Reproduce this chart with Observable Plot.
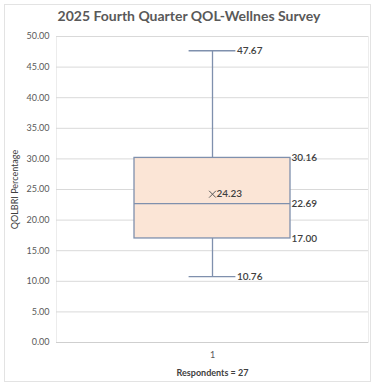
<!DOCTYPE html>
<html>
<head>
<meta charset="utf-8">
<script src="https://cdn.jsdelivr.net/npm/d3@7"></script>
<script src="https://cdn.jsdelivr.net/npm/@observablehq/plot@0.6"></script>
<style>
  html, body { margin: 0; padding: 0; background: #fff; }
  #wrap { position: relative; width: 378px; height: 387px; font-family: Lato, "Open Sans", sans-serif; }
  #frame { position: absolute; left: 4px; top: 4px; width: 367px; height: 378px; border: 1px solid #e3e3e3; box-sizing: border-box; }
  #title { position: absolute; left: 0; top: 7px; width: 378px; text-align: center; font-size: 14px; font-weight: bold; color: #595959; }
  #chart { position: absolute; left: 0; top: 0; }
</style>
</head>
<body>
<div id="wrap">
  <div id="frame"></div>
  <div id="title">2025 Fourth Quarter QOL-Wellnes Survey</div>
  <div id="chart"></div>
</div>
<script>
const categories = ["1"];
const minValues = [10.76];
const q1Values = [17.00];
const medianValues = [22.69];
const q3Values = [30.16];
const maxValues = [47.67];
const meanValues = [24.23];
const yTicks = [0, 5, 10, 15, 20, 25, 30, 35, 40, 45, 50];
const xLabel = "Respondents = 27";
const yLabel = "QOLBRI Percentage";

const data = categories.map((c, i) => ({
  pos: i + 1, cat: c,
  min: minValues[i], q1: q1Values[i], med: medianValues[i],
  q3: q3Values[i], max: maxValues[i], mean: meanValues[i]
}));

const boxColor = "#7f90ad";
const fillColor = "#fbe5d6";
const labelColor = "#404040";
const fmt = d => d.toFixed(2);

const chart = Plot.plot({
  width: 378,
  height: 387,
  marginLeft: 56,
  marginRight: 10,
  marginTop: 36,
  marginBottom: 45,
  style: { fontFamily: "Lato, 'Open Sans', sans-serif", background: "transparent" },
  x: { domain: [0, 2], axis: null },
  y: { domain: [0, 50], axis: null },
  marks: [
    Plot.frame({ stroke: "#ececec" }),
    Plot.ruleY(yTicks, { stroke: "#d9d9d9", strokeWidth: 1 }),
    Plot.ruleY([0], { stroke: "#cfcfcf", strokeWidth: 1 }),
    Plot.text(yTicks, { x: 0, y: d => d, text: d => d.toFixed(2), textAnchor: "end", dx: -7, fill: "#595959", fontSize: 9 }),
    Plot.text(data, { x: d => d.pos, y: 0, text: "cat", dy: 13, fill: "#595959", fontSize: 9 }),
    Plot.text([xLabel], { x: 1, y: 0, text: d => d, dy: 31, fill: "#404040", fontSize: 9, fontWeight: "bold" }),
    Plot.text([yLabel], { x: 0, y: 25, text: d => d, rotate: -90, dx: -41, fill: "#404040", fontSize: 9 }),
    // whiskers
    Plot.ruleX(data, { x: "pos", y1: "q3", y2: "max", stroke: boxColor, strokeWidth: 1.3 }),
    Plot.ruleX(data, { x: "pos", y1: "min", y2: "q1", stroke: boxColor, strokeWidth: 1.3 }),
    Plot.ruleY(data, { y: "max", x1: d => d.pos - 0.15, x2: d => d.pos + 0.15, stroke: boxColor, strokeWidth: 1.3 }),
    Plot.ruleY(data, { y: "min", x1: d => d.pos - 0.15, x2: d => d.pos + 0.15, stroke: boxColor, strokeWidth: 1.3 }),
    // box
    Plot.rect(data, { x1: d => d.pos - 0.5, x2: d => d.pos + 0.5, y1: "q1", y2: "q3", fill: fillColor, stroke: boxColor, strokeWidth: 1.3 }),
    Plot.ruleY(data, { y: "med", x1: d => d.pos - 0.5, x2: d => d.pos + 0.5, stroke: boxColor, strokeWidth: 1.3 }),
    // mean marker
    Plot.dot(data, { x: "pos", y: "mean", symbol: "times", r: 3.2, stroke: "#595959", strokeWidth: 1 }),
    // labels
    Plot.text(data, { x: d => d.pos, y: "mean", text: d => fmt(d.mean), textAnchor: "start", dx: 4, fill: labelColor, fontSize: 10, fontWeight: 600 }),
    Plot.text(data, { x: d => d.pos + 0.15, y: "max", text: d => fmt(d.max), textAnchor: "start", dx: 1, fill: labelColor, fontSize: 10, fontWeight: 600 }),
    Plot.text(data, { x: d => d.pos + 0.15, y: "min", text: d => fmt(d.min), textAnchor: "start", dx: 1, fill: labelColor, fontSize: 10, fontWeight: 600 }),
    Plot.text(data, { x: d => d.pos + 0.5, y: "q3", text: d => fmt(d.q3), textAnchor: "start", dx: 1, fill: labelColor, fontSize: 10, fontWeight: 600 }),
    Plot.text(data, { x: d => d.pos + 0.5, y: "med", text: d => fmt(d.med), textAnchor: "start", dx: 1, fill: labelColor, fontSize: 10, fontWeight: 600 }),
    Plot.text(data, { x: d => d.pos + 0.5, y: "q1", text: d => fmt(d.q1), textAnchor: "start", dx: 1, fill: labelColor, fontSize: 10, fontWeight: 600 })
  ]
});
document.getElementById("chart").appendChild(chart);
</script>
</body>
</html>
